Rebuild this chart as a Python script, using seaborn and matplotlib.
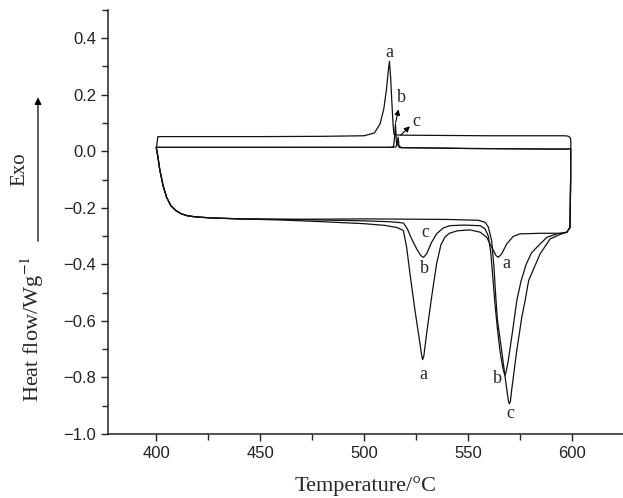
import numpy as np
import pandas as pd
import seaborn as sns
import matplotlib
matplotlib.use('Agg')
import matplotlib.pyplot as plt

sns.set_style('ticks')
plt.rcParams['font.family'] = ['Liberation Sans', 'DejaVu Sans']
plt.rcParams['mathtext.fontset'] = 'stix'

# DSC loops: heating 400->600 C, then cooling 600->400 C
# common start of heating
start_T = [400.0, 400.8, 401.7, 403.3, 405.0, 407.0, 409.5, 412.0, 415.0, 419.0, 425.0, 432.0, 440.0]
start_q = [0.014, -0.02, -0.065, -0.122, -0.163, -0.192, -0.210, -0.221, -0.228, -0.232, -0.235, -0.237, -0.239]

# sample a
a_heat_T = [460, 480, 500, 510, 516, 518.9, 520.5, 522.1, 524.5, 526.9, 527.7, 528.2, 528.8, 530.1, 532.5,
            534.9, 537.0, 539.0, 541.0, 545.0, 551.0, 555.8, 559.0, 561.4, 563.5, 564.6, 566.2, 568.7, 571.8,
            575.0, 585.0, 595.2, 597.6, 599.1, 599.4, 599.5]
a_heat_q = [-0.243, -0.249, -0.256, -0.262, -0.270, -0.28, -0.34, -0.433, -0.563, -0.68, -0.722, -0.737, -0.722,
            -0.645, -0.516, -0.398, -0.33, -0.303, -0.29, -0.281, -0.278, -0.286, -0.304, -0.339, -0.369, -0.375,
            -0.363, -0.327, -0.301, -0.292, -0.290, -0.290, -0.286, -0.269, -0.10, 0.030]
a_cool_T = [599.4, 599.0, 598.0, 596.0, 580.0, 560.0, 540.0, 520.0, 515.0, 514.4, 514.0, 513.4, 512.8, 512.2,
            511.6, 510.8, 509.5, 507.7, 505.0, 500.0, 480.0, 450.0, 420.0, 400.8, 400.1]
a_cool_q = [0.044, 0.050, 0.054, 0.055, 0.055, 0.055, 0.056, 0.057, 0.058, 0.06, 0.09, 0.17, 0.26, 0.318,
            0.28, 0.22, 0.15, 0.097, 0.065, 0.055, 0.053, 0.052, 0.052, 0.052, 0.014]

# sample b
b_heat_T = [460, 480, 500, 512, 517, 519.0, 520.8, 522.9, 525.3, 527.3, 528.6, 530.1, 532.5, 534.9, 538.1,
            541.4, 548.0, 555.8, 558.2, 559.8, 561.0, 562.0, 563.0, 564.2, 565.4, 566.6, 567.5, 567.9, 568.5,
            569.4, 570.5, 571.5, 573.5, 575.5, 578.0, 580.5, 583.2, 588.0, 592.8, 596.0, 597.6, 599.1, 599.4]
b_heat_q = [-0.241, -0.243, -0.246, -0.249, -0.252, -0.254, -0.274, -0.31, -0.345, -0.369, -0.375, -0.363,
            -0.322, -0.292, -0.271, -0.263, -0.261, -0.263, -0.274, -0.30, -0.36, -0.45, -0.54, -0.63, -0.705,
            -0.76, -0.787, -0.792, -0.775, -0.74, -0.685, -0.634, -0.528, -0.46, -0.40, -0.36, -0.339, -0.304,
            -0.292, -0.288, -0.286, -0.269, -0.10]
b_cool_T = [599.4, 598.5, 590.0, 570.0, 550.0, 530.0, 517.0, 515.6, 515.1, 514.7, 514.2, 513.0, 500.0,
            470.0, 440.0, 410.0, 400.0]
b_cool_q = [0.010, 0.008, 0.008, 0.009, 0.010, 0.012, 0.013, 0.03, 0.097, 0.05, 0.018, 0.014, 0.014,
            0.014, 0.014, 0.014, 0.014]

# sample c
c_heat_T = [460, 480, 500, 520, 540, 555.0, 558.2, 559.8, 561.4, 562.5, 563.5, 564.2, 566.2, 568.3, 569.4,
            569.9, 570.4, 571.0, 573.5, 575.9, 577.5, 579.2, 584.7, 589.5, 594.3, 596.0, 597.6, 599.1, 599.4]
c_heat_q = [-0.240, -0.240, -0.239, -0.240, -0.241, -0.244, -0.251, -0.268, -0.316, -0.41, -0.528, -0.598,
            -0.704, -0.822, -0.881, -0.893, -0.885, -0.846, -0.704, -0.587, -0.528, -0.457, -0.363, -0.31,
            -0.294, -0.29, -0.286, -0.269, -0.10]
c_cool_T = [599.4, 598.5, 590.0, 570.0, 550.0, 530.0, 518.0, 516.8, 516.4, 516.0, 515.4, 514.0, 500.0,
            470.0, 440.0, 410.0, 400.0]
c_cool_q = [0.010, 0.008, 0.008, 0.009, 0.010, 0.012, 0.013, 0.02, 0.05, 0.03, 0.016, 0.014, 0.014,
            0.014, 0.014, 0.014, 0.014]

# peak labels
lab_text = ['a', 'b', 'c', 'c', 'b', 'a', 'a', 'b', 'c']
lab_T = [512.0, 517.8, 525.2, 529.3, 529.3, 528.4, 568.7, 564.4, 570.6]
lab_q = [0.35, 0.19, 0.105, -0.288, -0.415, -0.79, -0.397, -0.803, -0.927]

frames = []
for name, hT, hq, cT, cq in [('a', a_heat_T, a_heat_q, a_cool_T, a_cool_q),
                             ('b', b_heat_T, b_heat_q, b_cool_T, b_cool_q),
                             ('c', c_heat_T, c_heat_q, c_cool_T, c_cool_q)]:
    T = start_T + hT + cT
    q = start_q + hq + cq
    frames.append(pd.DataFrame({'T': T, 'q': q, 'sample': name}))
df = pd.concat(frames, ignore_index=True)

fig = plt.figure(figsize=(6.23, 4.98), dpi=100)
ax = fig.add_axes([0.1734, 0.1285, 0.8266, 0.8515])
sns.lineplot(data=df, x='T', y='q', units='sample', estimator=None, sort=False,
             color='#111111', lw=0.9, ax=ax, legend=False)

ax.set_xlim(376.8, 624.6)
ax.set_ylim(-1.0, 0.5)
ax.set_xticks([400, 450, 500, 550, 600])
ax.set_xticks([425, 475, 525, 575], minor=True)
ax.set_yticks(np.round(np.arange(-1.0, 0.41, 0.2), 1))
ax.set_yticks(np.round(np.arange(-0.9, 0.51, 0.2), 1), minor=True)
ax.tick_params(which='major', direction='out', length=5, width=1, labelsize=12, colors='#222222')
ax.tick_params(which='minor', direction='out', length=4, width=1)
sns.despine(ax=ax)
for s in ['left', 'bottom']:
    ax.spines[s].set_linewidth(1.1)
    ax.spines[s].set_color('#222222')

serif = ['Liberation Serif', 'DejaVu Serif']
ax.set_xlabel('Temperature/°C', family=serif, fontsize=16, labelpad=11)
ax.set_ylabel('')

for t, x, y in zip(lab_text, lab_T, lab_q):
    ax.text(x, y, t, family=serif, fontsize=13, ha='center', va='center')

# small arrows at the b and c crystallization peaks
ax.annotate('', xy=(516.9, 0.158), xytext=(514.9, 0.092),
            arrowprops=dict(arrowstyle='-|>', lw=0.8, color='k', mutation_scale=8))
ax.annotate('', xy=(523.0, 0.095), xytext=(516.6, 0.05),
            arrowprops=dict(arrowstyle='-|>', lw=0.8, color='k', mutation_scale=8))

# y title with Exo arrow
fig.text(0.052, 0.34, 'Heat flow/Wg$^{-1}$', family=serif, fontsize=16,
         rotation=90, ha='center', va='center')
fig.text(0.032, 0.66, 'Exo', family=serif, fontsize=15, rotation=90, ha='center', va='center')
ax.annotate('', xy=(0.061, 0.81), xytext=(0.061, 0.51), xycoords='figure fraction',
            textcoords='figure fraction',
            arrowprops=dict(arrowstyle='-|>', lw=0.9, color='k', mutation_scale=10))

fig.savefig('out.png', dpi=100)
